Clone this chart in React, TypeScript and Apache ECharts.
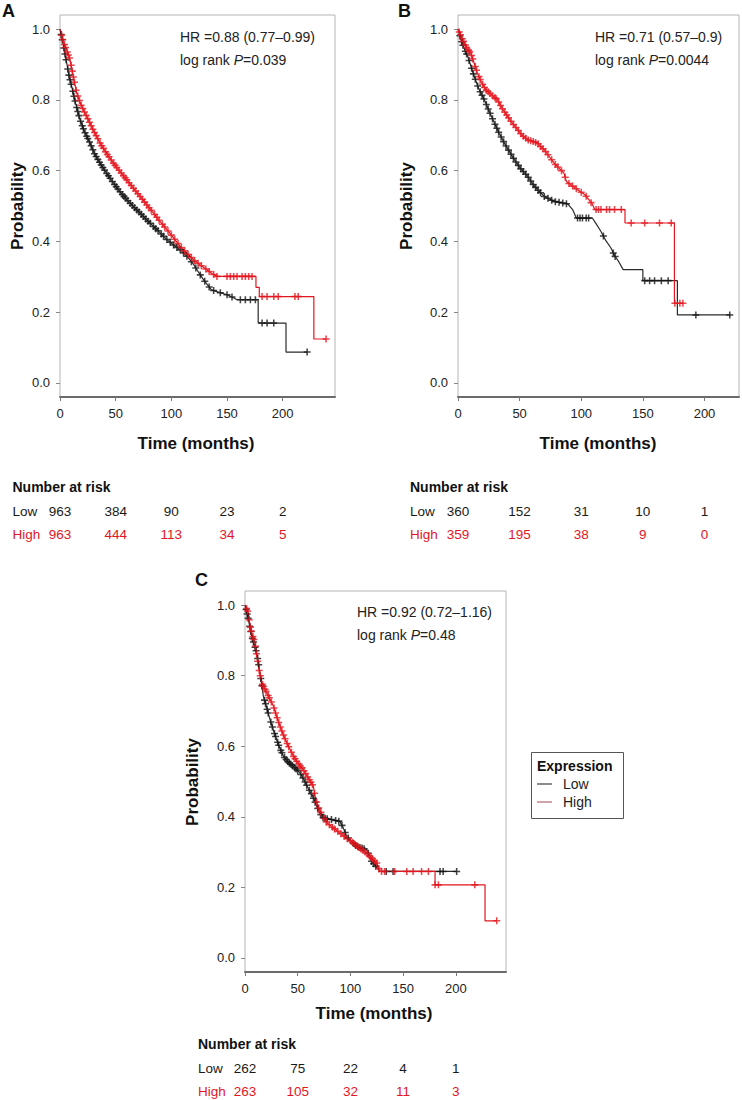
import React, { useEffect, useRef } from "react";
import * as echarts from "echarts";

// ---------- shared ticks ----------
const timeTicks = [0, 50, 100, 150, 200];
const probTicks = [0, 0.2, 0.4, 0.6, 0.8, 1.0];
const groupNames = ["Low", "High"];

// ---------- Panel A ----------
const aLowCurve = [
  [0, 1.0], [3, 0.955], [6, 0.905], [8, 0.87], [10.5, 0.838], [14, 0.79], [18, 0.744], [22, 0.71],
  [27, 0.678], [31, 0.648], [36, 0.621], [42, 0.592], [48, 0.565], [54, 0.54], [60, 0.518],
  [66, 0.498], [72, 0.48], [78, 0.46], [84, 0.442], [90, 0.424], [96, 0.405], [102, 0.39],
  [108, 0.376], [114, 0.358], [120, 0.335], [125, 0.31], [129, 0.291], [133, 0.275], [136, 0.263],
  [143, 0.256], [150, 0.249], [155, 0.242], [159, 0.235], [178, 0.235], [178, 0.169], [203, 0.169],
  [203, 0.087], [222, 0.087],
];
const aHighCurve = [
  [0, 1.0], [3, 0.965], [6, 0.94], [9, 0.914], [12, 0.865], [15, 0.82], [19, 0.785], [24, 0.753],
  [30, 0.714], [36, 0.678], [42, 0.648], [48, 0.621], [54, 0.597], [60, 0.574], [66, 0.55],
  [72, 0.527], [78, 0.503], [84, 0.48], [90, 0.456], [96, 0.433], [102, 0.41], [108, 0.386],
  [114, 0.367], [120, 0.348], [126, 0.333], [132, 0.32], [136, 0.31], [141, 0.301], [176, 0.301],
  [176, 0.27], [179, 0.27], [179, 0.244], [228, 0.244], [228, 0.124], [239, 0.124],
];
const aLowCensor = [
  1, 2, 3.5, 4.5, 5.5, 7, 8, 9, 10, 11.5, 12.5, 13.5, 15, 16, 17, 18.5, 20, 21, 22.5, 24, 25, 26.5,
  28, 29.5, 31, 32.5, 34, 35.5, 37, 38.5, 40, 42, 43.5, 45, 47, 49, 50.5, 52, 54, 56, 57.5, 59, 61,
  63, 65, 67, 69, 71, 73, 75, 77, 79, 81, 84, 86, 88, 91, 93, 96, 99, 102, 105, 108, 111, 114, 118,
  122, 126, 130, 134, 138, 144, 150, 154.5, 162, 166.5, 171, 175.5, 181.5, 186, 192, 222,
];
const aHighCensor = [
  1.5, 2.5, 4, 5, 6.5, 7.5, 8.5, 10, 11, 12, 13, 14.5, 16, 17.5, 19, 20.5, 22, 23.5, 25, 26.5, 28,
  29.5, 31, 32.5, 34, 36, 37.5, 39, 41, 42.5, 44, 46, 48, 49.5, 51, 53, 55, 57, 58.5, 60, 62, 64,
  66, 68, 70, 72, 74, 76, 78, 80, 82, 85, 87, 89, 92, 94, 97, 100, 103, 106, 109, 112, 115, 118,
  121, 124, 127, 131, 134, 138, 141, 150, 153, 156, 159, 163.5, 166.5, 169.5, 172.5, 181.5, 186,
  192, 196, 211, 214, 239,
];
const aRiskLow = [963, 384, 90, 23, 2];
const aRiskHigh = [963, 444, 113, 34, 5];
const aHR = "HR =0.88 (0.77–0.99)";
const aP = "0.039";

// ---------- Panel B ----------
const bLowCurve = [
  [0, 1.0], [2.4, 0.97], [5, 0.945], [7.9, 0.923], [10.5, 0.895], [13.2, 0.866], [17, 0.83],
  [21.4, 0.8], [25, 0.77], [29.5, 0.735], [33.5, 0.705], [37.6, 0.678], [41.5, 0.655], [45.7, 0.631],
  [51, 0.605], [56.5, 0.584], [60, 0.565], [64.6, 0.546], [70, 0.527], [78, 0.513], [89, 0.506],
  [93, 0.49], [96, 0.466], [109, 0.466], [112, 0.45], [116, 0.428], [120, 0.402], [124, 0.382],
  [127, 0.36], [130, 0.345], [134, 0.32], [150, 0.32], [150, 0.289], [178, 0.289], [178, 0.192],
  [221, 0.192],
];
const bHighCurve = [
  [0, 1.0], [2.5, 0.98], [5.1, 0.961], [7.5, 0.945], [10.3, 0.933], [13, 0.905], [15.7, 0.876],
  [19, 0.85], [22.5, 0.829], [27, 0.815], [32, 0.8], [36, 0.775], [40.3, 0.753], [44, 0.735],
  [48.4, 0.716], [52, 0.7], [56.5, 0.687], [60.5, 0.683], [64.5, 0.678], [67, 0.668], [70, 0.659],
  [74, 0.64], [78, 0.621], [82, 0.607], [86, 0.593], [88, 0.569], [97, 0.546], [103, 0.532],
  [109, 0.505], [111, 0.49], [135.5, 0.49], [135.5, 0.452], [175.6, 0.452], [175.6, 0.225],
  [182.5, 0.225],
];
const bLowCensor = [
  1.5, 3, 4, 6, 7, 9, 11, 12.5, 14, 16, 18, 19.5, 21, 23, 24.5, 26, 28, 30, 31.5, 33, 35, 37, 39,
  41, 43, 45, 47, 49, 51, 53, 55, 57, 59, 61, 63, 65, 67, 70, 73, 76, 79, 82, 85, 88, 97, 99, 101,
  104, 106, 118, 126, 127.5, 151.5, 155.5, 159.5, 165, 170.5, 193, 220.5,
];
const bHighCensor = [
  1, 2, 3.5, 4.5, 6, 7, 8.5, 9.5, 11, 12, 14, 15, 17, 18, 20, 21.5, 23, 24.5, 26, 28, 30, 31, 33,
  34.5, 36, 38, 39.5, 41, 43, 45, 47, 49, 51, 53, 55, 57, 59, 61, 63, 65, 67, 69, 71, 73, 76, 79,
  81, 84, 87, 90, 93, 96, 100, 104, 108, 112, 114, 116, 120.5, 123, 127, 132.5, 140.5, 151.5,
  163.5, 173, 176, 180, 182.5,
];
const bRiskLow = [360, 152, 31, 10, 1];
const bRiskHigh = [359, 195, 38, 9, 0];
const bHR = "HR =0.71 (0.57–0.9)";
const bP = "0.0044";

// ---------- Panel C ----------
const cLowCurve = [
  [0, 1.0], [3.2, 0.96], [6.3, 0.913], [8.5, 0.89], [11.1, 0.865], [14.2, 0.809], [17.4, 0.742],
  [20.5, 0.71], [23.7, 0.676], [27, 0.645], [30, 0.619], [33, 0.595], [36.4, 0.572], [41, 0.555],
  [45.8, 0.543], [52, 0.525], [56, 0.505], [60, 0.48], [64, 0.46], [68, 0.43], [71, 0.41],
  [74.3, 0.397], [90, 0.387], [93, 0.37], [96.5, 0.345], [101, 0.33], [106, 0.316], [115.5, 0.307],
  [118, 0.29], [120, 0.274], [124, 0.26], [128, 0.245], [200.8, 0.245],
];
const cHighCurve = [
  [0, 1.0], [3.2, 0.979], [4.7, 0.941], [7, 0.915], [9.5, 0.894], [12.6, 0.828], [15.8, 0.78],
  [20.6, 0.752], [26.9, 0.714], [30, 0.685], [33.2, 0.657], [36.5, 0.632], [39.6, 0.61],
  [45.8, 0.572], [50, 0.553], [55.3, 0.534], [60, 0.51], [64.8, 0.487], [67, 0.45], [70, 0.425],
  [74, 0.4], [77.5, 0.383], [84, 0.368], [90, 0.354], [96, 0.34], [102.8, 0.326], [109, 0.311],
  [115.5, 0.297], [120, 0.283], [125, 0.269], [128, 0.245], [180.3, 0.245], [180.3, 0.207],
  [227.7, 0.207], [227.7, 0.105], [238.8, 0.105],
];
const cLowCensor = [
  1, 2, 3, 4.5, 5.5, 7, 8, 9.5, 10.5, 12, 13, 15, 16, 18.5, 19.5, 21, 22, 24.5, 26, 28, 29, 31, 32,
  34, 35, 37.5, 39, 40.5, 42, 43.5, 45, 47, 48.5, 50, 53, 55, 57, 58.5, 61, 63, 65, 66.5, 69, 72,
  74, 76, 78, 82, 86, 89, 92, 95, 98, 103, 105, 107, 109, 111, 113, 117, 120, 122, 124, 134, 140.5,
  185, 188, 200.8,
];
const cHighCensor = [
  1.5, 2.5, 4, 5, 6, 7.5, 8.5, 10, 11, 12, 13.5, 14.5, 16.5, 17.5, 19, 20, 22, 23, 25, 27.5, 29,
  30.5, 32, 33.5, 35, 36.5, 38, 40, 41.5, 44, 46, 47.5, 49, 51, 52.5, 54, 56, 57.5, 59.5, 61, 62.5,
  64, 66, 68, 70, 72, 75, 77, 80, 83, 85, 88, 91, 94, 97, 100, 102, 104, 106, 108, 110, 112, 114,
  116, 118, 119.5, 121, 123, 125, 127, 129.5, 132.5, 142, 153.5, 159.5, 167.5, 174, 180.3, 183.5,
  218, 238.8,
];
const cRiskLow = [262, 75, 22, 4, 1];
const cRiskHigh = [263, 105, 32, 11, 3];
const cHR = "HR =0.92 (0.72–1.16)";
const cP = "0.48";

// ---------- styling / layout ----------
const FONT = '"Liberation Sans", Arial, Helvetica, sans-serif';
const BLACK = "#141414";
const RED = "#e3161f";
const PLUS = "path://M3.9,0h2.2v3.9h3.9v2.2h-3.9v3.9h-2.2v-3.9h-3.9v-2.2h3.9z";

const panels = [
  {
    letter: "A", low: aLowCurve, high: aHighCurve, lowC: aLowCensor, highC: aHighCensor,
    riskLow: aRiskLow, riskHigh: aRiskHigh, hr: aHR, p: aP,
    grid: { left: 60, top: 15, width: 275, height: 382 }, xMax: 247,
    letterPos: [2, 11], hrPos: [180, 37], probPos: [17, 206], timePos: [196, 443],
    riskPos: [12.5, 487],
  },
  {
    letter: "B", low: bLowCurve, high: bHighCurve, lowC: bLowCensor, highC: bHighCensor,
    riskLow: bRiskLow, riskHigh: bRiskHigh, hr: bHR, p: bP,
    grid: { left: 458, top: 15, width: 281, height: 382 }, xMax: 228,
    letterPos: [398, 11], hrPos: [595, 37], probPos: [406, 206], timePos: [598, 443],
    riskPos: [410, 487],
  },
  {
    letter: "C", low: cLowCurve, high: cHighCurve, lowC: cLowCensor, highC: cHighCensor,
    riskLow: cRiskLow, riskHigh: cRiskHigh, hr: cHR, p: cP,
    grid: { left: 245, top: 591, width: 261, height: 381 }, xMax: 247.6,
    letterPos: [195, 580], hrPos: [357, 612], probPos: [192, 782], timePos: [374, 1013],
    riskPos: [198, 1044],
  },
];

// survival value of a drawn curve at time t (used to seat censor marks on the curve)
function curveAt(curve: number[][], t: number): number {
  for (let i = curve.length - 1; i >= 0; i--) {
    if (curve[i][0] <= t) {
      const a = curve[i];
      const b = curve[i + 1];
      if (!b || b[0] === a[0]) return a[1];
      return a[1] + ((b[1] - a[1]) * (t - a[0])) / (b[0] - a[0]);
    }
  }
  return curve[0][1];
}

function buildOption() {
  const grid = panels.map((p) => ({
    ...p.grid,
    show: true,
    borderColor: "#b4b4b4",
    borderWidth: 1,
    backgroundColor: "transparent",
    containLabel: false,
  }));
  const xAxis = panels.map((p, i) => ({
    type: "value",
    gridIndex: i,
    min: 0,
    max: p.xMax,
    axisLine: { show: true, onZero: false, lineStyle: { color: "#6a6a6a", width: 2 } },
    axisTick: { show: true, customValues: timeTicks, length: 4, lineStyle: { color: "#777" } },
    axisLabel: { customValues: timeTicks, fontSize: 13, color: "#222", fontFamily: FONT, margin: 10 },
    splitLine: { show: false },
  }));
  const yAxis = panels.map((p, i) => ({
    type: "value",
    gridIndex: i,
    min: -0.04,
    max: 1.04,
    axisLine: { show: false, onZero: false },
    axisTick: { show: true, customValues: probTicks, length: 4, lineStyle: { color: "#888" } },
    axisLabel: {
      customValues: probTicks,
      fontSize: 13,
      color: "#222",
      fontFamily: FONT,
      margin: 10,
      formatter: (v: number) => v.toFixed(1),
    },
    splitLine: { show: false },
  }));
  const series: any[] = [];
  panels.forEach((p, i) => {
    const groups = [
      { name: groupNames[0], curve: p.low, censor: p.lowC, color: BLACK, lineColor: "#2a2a2a" },
      { name: groupNames[1], curve: p.high, censor: p.highC, color: RED, lineColor: RED },
    ];
    groups.forEach((g) => {
      series.push({
        type: "line",
        name: g.name,
        xAxisIndex: i,
        yAxisIndex: i,
        data: g.curve,
        showSymbol: false,
        lineStyle: { color: g.lineColor, width: 1.2 },
        silent: true,
        z: 2,
      });
      series.push({
        type: "scatter",
        name: g.name + " censored",
        xAxisIndex: i,
        yAxisIndex: i,
        data: g.censor.map((t) => [t, curveAt(g.curve, t)]),
        symbol: PLUS,
        symbolSize: 7,
        itemStyle: { color: g.color },
        silent: true,
        z: 3,
      });
    });
  });
  return {
    animation: false,
    backgroundColor: "#ffffff",
    grid,
    xAxis,
    yAxis,
    series,
  };
}

function buildGraphics(chart: echarts.ECharts) {
  const els: any[] = [];
  panels.forEach((p, i) => {
    els.push({
      type: "text",
      x: p.letterPos[0],
      y: p.letterPos[1],
      style: { text: p.letter, fill: "#111", font: `bold 18px ${FONT}`, align: "left", verticalAlign: "middle" },
    });
    els.push({
      type: "text",
      x: p.hrPos[0],
      y: p.hrPos[1],
      style: { text: p.hr, fill: "#222", font: `14px ${FONT}`, align: "left", verticalAlign: "middle" },
    });
    els.push({
      type: "text",
      x: p.hrPos[0],
      y: p.hrPos[1] + 23,
      style: {
        text: "log rank {i|P}=" + p.p,
        fill: "#222",
        fontSize: 14,
        fontFamily: FONT,
        align: "left",
        verticalAlign: "middle",
        rich: { i: { fontStyle: "italic", fontSize: 14, fontFamily: FONT, fill: "#222" } },
      },
    });
    els.push({
      type: "text",
      x: p.probPos[0],
      y: p.probPos[1],
      rotation: Math.PI / 2,
      style: { text: "Probability", fill: "#111", font: `bold 17px ${FONT}`, align: "center", verticalAlign: "middle" },
    });
    els.push({
      type: "text",
      x: p.timePos[0],
      y: p.timePos[1],
      style: { text: "Time (months)", fill: "#111", font: `bold 17px ${FONT}`, align: "center", verticalAlign: "middle" },
    });
    // risk table
    const rx = p.riskPos[0];
    const ry = p.riskPos[1];
    els.push({
      type: "text",
      x: rx,
      y: ry,
      style: { text: "Number at risk", fill: "#111", font: `bold 14px ${FONT}`, align: "left", verticalAlign: "middle" },
    });
    const rows = [
      { label: groupNames[0], vals: p.riskLow, color: "#1a1a1a", dy: 24 },
      { label: groupNames[1], vals: p.riskHigh, color: RED, dy: 47 },
    ];
    rows.forEach((r) => {
      els.push({
        type: "text",
        x: rx,
        y: ry + r.dy,
        style: { text: r.label, fill: r.color, font: `13.5px ${FONT}`, align: "left", verticalAlign: "middle" },
      });
      r.vals.forEach((v, k) => {
        const px = chart.convertToPixel({ xAxisIndex: i }, timeTicks[k]) as number;
        els.push({
          type: "text",
          x: px,
          y: ry + r.dy,
          style: { text: String(v), fill: r.color, font: `13.5px ${FONT}`, align: "center", verticalAlign: "middle" },
        });
      });
    });
  });
  // legend
  els.push({
    type: "rect",
    shape: { x: 531.5, y: 752.5, width: 92, height: 66 },
    style: { fill: "#fff", stroke: "#555", lineWidth: 1 },
  });
  els.push({
    type: "text",
    x: 537,
    y: 766,
    style: { text: "Expression", fill: "#111", font: `bold 14px ${FONT}`, align: "left", verticalAlign: "middle" },
  });
  const legendItems = [
    { label: groupNames[0], color: "#8c8c8c", y: 784 },
    { label: groupNames[1], color: "#cfa3a8", y: 802 },
  ];
  legendItems.forEach((it) => {
    els.push({
      type: "line",
      shape: { x1: 537, y1: it.y, x2: 552, y2: it.y },
      style: { stroke: it.color, lineWidth: 2 },
    });
    els.push({
      type: "text",
      x: 563,
      y: it.y,
      style: { text: it.label, fill: "#222", font: `14px ${FONT}`, align: "left", verticalAlign: "middle" },
    });
  });
  return els;
}

export default function App() {
  const ref = useRef<HTMLDivElement>(null);
  useEffect(() => {
    if (!ref.current) return;
    const chart = echarts.init(ref.current, null, { renderer: "svg" });
    chart.setOption(buildOption() as any);
    chart.setOption({ graphic: buildGraphics(chart) } as any);
    return () => chart.dispose();
  }, []);
  return (
    <div
      ref={ref}
      style={{ position: "absolute", left: 0, top: 0, width: 742, height: 1100, background: "#fff" }}
    />
  );
}
